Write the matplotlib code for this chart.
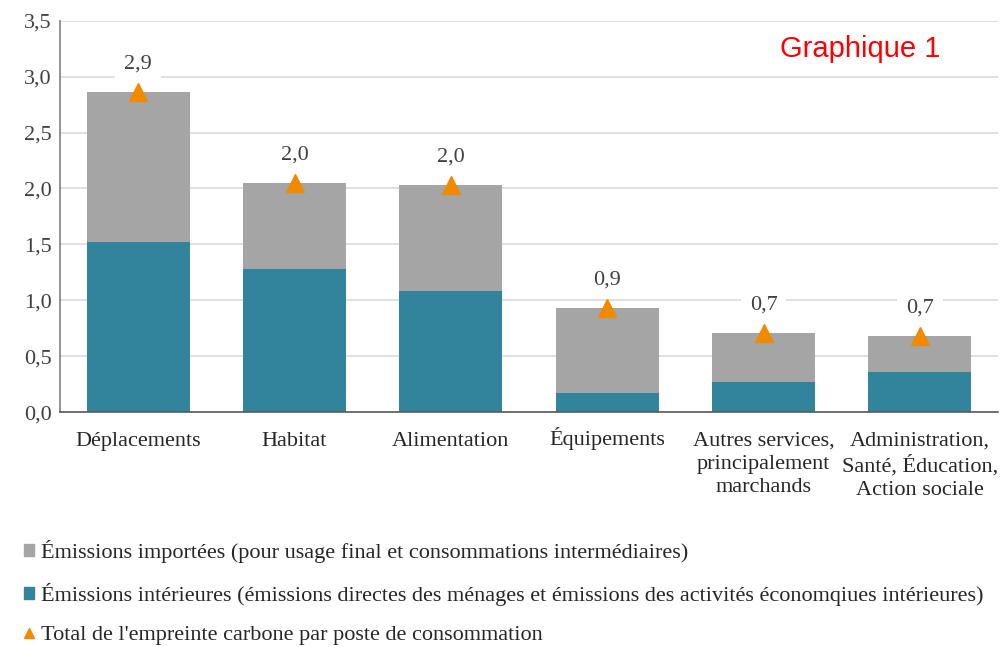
import matplotlib
matplotlib.use("Agg")
import matplotlib.pyplot as plt
import matplotlib.transforms as mtransforms
from matplotlib.lines import Line2D
from matplotlib.patches import Patch

categories = ["Déplacements", "Habitat", "Alimentation", "Équipements",
              "Autres services,\nprincipalement\nmarchands",
              "Administration,\nSanté, Éducation,\nAction sociale"]
interieures = [1.52, 1.28, 1.08, 0.17, 0.27, 0.36]
totals = [2.86, 2.05, 2.03, 0.93, 0.705, 0.68]
importees = [t - i for t, i in zip(totals, interieures)]
total_labels = ["2,9", "2,0", "2,0", "0,9", "0,7", "0,7"]
yticks = [0, 0.5, 1.0, 1.5, 2.0, 2.5, 3.0, 3.5]
ytick_labels = ["0,0", "0,5", "1,0", "1,5", "2,0", "2,5", "3,0", "3,5"]

serif = "Liberation Serif"
teal = "#31849B"
gray = "#A5A5A5"
orange = "#F08A00"

fig = plt.figure(figsize=(10.01, 6.47), dpi=100)
ax = fig.add_axes([0.06, 0.363, 0.937, 0.605])

x = list(range(len(categories)))
ax.bar(x, interieures, width=0.66, color=teal, zorder=2)
ax.bar(x, importees, bottom=interieures, width=0.66, color=gray, zorder=2)
ax.plot(x, totals, linestyle="none", marker="^", markersize=13, color=orange, zorder=3)
for xi, t, lab in zip(x, totals, total_labels):
    ax.annotate(lab, (xi, t), xytext=(0, 20), textcoords="offset points",
                ha="center", va="center", fontsize=16, family=serif, color="#404040",
                bbox=dict(boxstyle="square,pad=0.4", fc="white", ec="none"), zorder=4)

ax.set_xlim(-0.5, len(categories) - 0.5)
ax.set_ylim(0, 3.5)
ax.set_yticks(yticks)
ax.set_yticklabels(ytick_labels, family=serif, fontsize=16, color="#404040")
ax.set_xticks(x)
ax.set_xticklabels(categories, family=serif, fontsize=16, color="#262626",
                   va="top", linespacing=1.27)
ax.tick_params(axis="x", length=0, pad=14.3)
ax.tick_params(axis="y", length=0, pad=6)
# compensate the taller accented capital so first lines share a baseline
for lbl in ax.get_xticklabels():
    if lbl.get_text().startswith("É"):
        lbl.set_transform(lbl.get_transform() +
                          mtransforms.ScaledTranslation(0, 3.6 / 72, fig.dpi_scale_trans))
ax.grid(axis="y", color="#D9D9D9", linewidth=1.2, zorder=0)
ax.set_axisbelow(True)
for s in ["top", "right"]:
    ax.spines[s].set_visible(False)
ax.spines["left"].set_color("#808080")
ax.spines["bottom"].set_color("#595959")
ax.spines["left"].set_linewidth(1.2)
ax.spines["bottom"].set_linewidth(1.2)

ax.text(0.939, 0.928, "Graphique 1", transform=ax.transAxes, ha="right", va="center",
        fontsize=21, color="#FF0000", family="Liberation Sans")

handles = [Patch(color=gray), Patch(color=teal),
           Line2D([], [], linestyle="none", marker="^", color=orange, markersize=7)]
labels = ["Émissions importées (pour usage final et consommations intermédiaires)",
          "Émissions intérieures (émissions directes des ménages et émissions des activités économqiues intérieures)",
          "Total de l'empreinte carbone par poste de consommation"]
leg = fig.legend(handles, labels, loc="upper left", bbox_to_anchor=(0.024, 0.165), frameon=False,
                 prop={"family": serif, "size": 16}, handlelength=0.45, handleheight=0.45,
                 handletextpad=0.3, labelspacing=0.9, borderaxespad=0, borderpad=0)
for t in leg.get_texts():
    t.set_color("#262626")

fig.savefig("out.png", dpi=100)
